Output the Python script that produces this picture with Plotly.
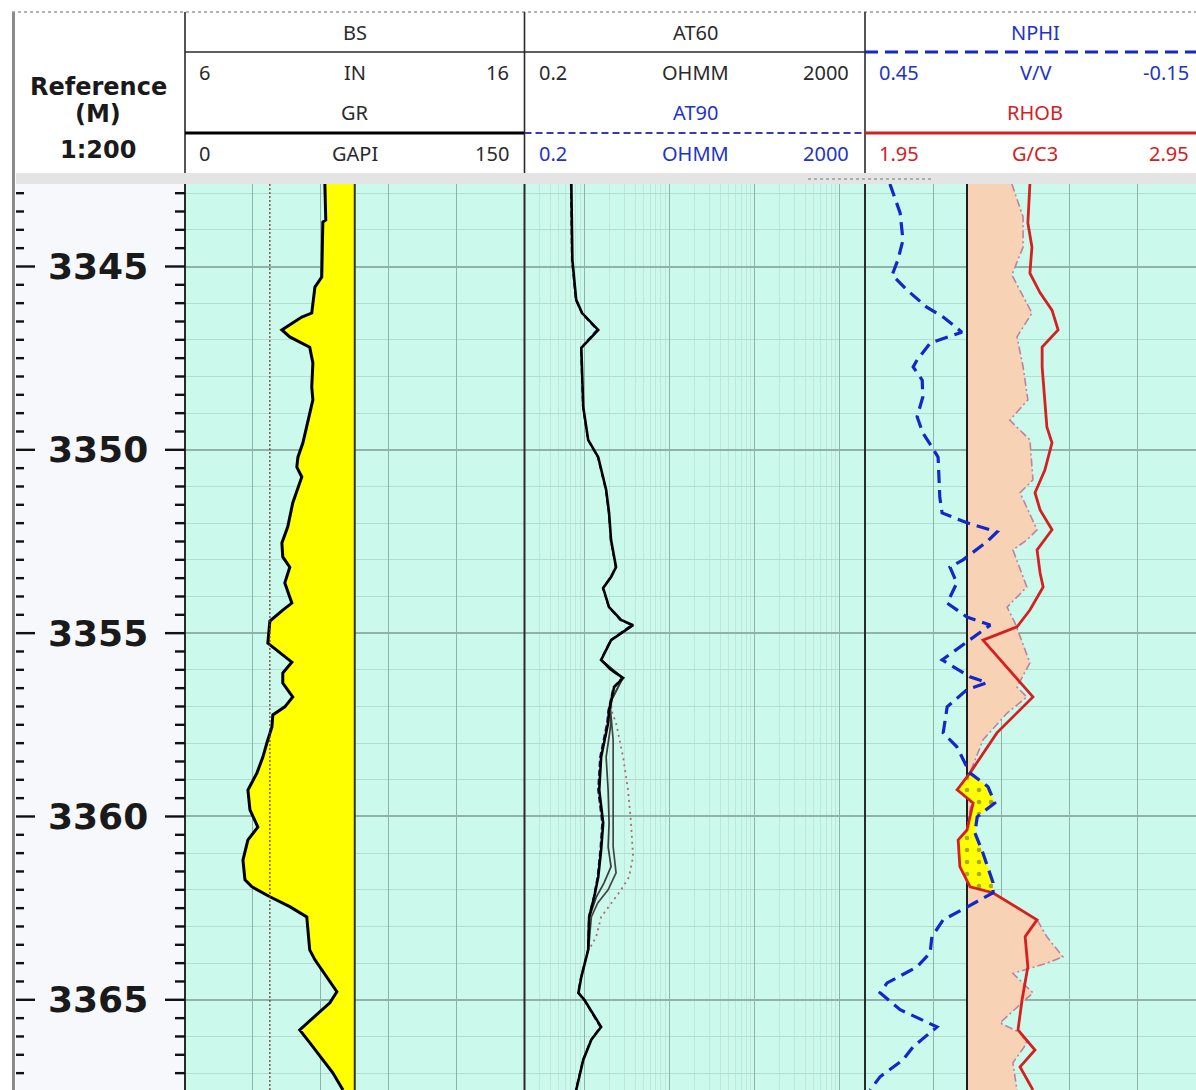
import numpy as np
import plotly.graph_objects as go

W, H = 1196, 1090

# ---------------- depth window (m) ----------------
TOP_DEPTH = 3342.75
BASE_DEPTH = 3367.46
DEPTH_LABELS = [3345, 3350, 3355, 3360, 3365]

# ---------------- track 1: gamma ray / bit size ----------------
GR_DEPTH = [3342.75, 3343.73, 3343.79, 3345.29, 3345.56, 3346.27, 3346.38, 3346.73,
            3346.92, 3347.20, 3347.63, 3348.29, 3348.64, 3349.19, 3349.81, 3350.20,
            3350.47, 3350.74, 3351.45, 3352.10, 3352.54, 3352.92, 3353.20, 3353.63,
            3354.18, 3354.37, 3354.67, 3355.27, 3355.46, 3355.79, 3356.09, 3356.36,
            3356.74, 3357.01, 3357.23, 3357.56, 3357.99, 3358.38, 3358.81, 3359.28,
            3359.82, 3360.29, 3360.64, 3361.19, 3361.73, 3361.92, 3362.19, 3362.46,
            3362.74, 3363.64, 3363.91, 3364.18, 3364.78, 3365.08, 3365.82, 3366.17,
            3366.64, 3366.99, 3367.46]
GR = [61.8, 62.2, 60.9, 60.4, 57.4, 56.0, 51.6, 42.8, 46.3, 55.1,
      56.5, 56.0, 56.5, 54.3, 52.1, 49.9, 49.4, 51.6, 47.6, 45.4,
      42.8, 43.2, 46.3, 44.1, 47.2, 43.2, 37.5, 36.6, 40.6, 47.2,
      43.2, 43.2, 47.6, 44.1, 38.8, 38.4, 36.2, 34.4, 31.8, 27.8,
      28.7, 32.2, 27.8, 25.6, 26.5, 29.6, 37.5, 46.3, 53.8, 55.1,
      57.4, 60.4, 67.1, 64.0, 50.7, 55.1, 60.9, 65.3, 69.8]
BS_DEPTH = [TOP_DEPTH, BASE_DEPTH]
BS = [8.5, 8.5]
GR_CUTOFF = 75.0

# ---------------- track 2: array induction resistivity (ohm.m) ----------------
AT60_DEPTH = [3342.75, 3344.82, 3345.91, 3346.27, 3346.73, 3347.22, 3348.83, 3349.73,
              3350.20, 3351.09, 3351.72, 3352.46, 3353.20, 3353.47, 3353.77, 3354.29,
              3354.64, 3354.78, 3355.19, 3355.73, 3356.00, 3356.22, 3356.47, 3356.82,
              3357.10, 3357.45, 3358.38, 3359.28, 3360.18, 3360.91, 3361.65, 3362.19,
              3362.74, 3363.64, 3364.38, 3364.81, 3365.00, 3365.74, 3366.09, 3366.64,
              3367.46]
AT60 = [0.71, 0.73, 0.81, 0.95, 1.47, 0.93, 0.98, 1.12, 1.47, 1.82,
        1.97, 2.08, 2.38, 2.08, 1.68, 1.97, 2.73, 3.77, 2.08, 1.59,
        2.08, 2.88, 2.26, 2.08, 1.97, 1.92, 1.59, 1.51, 1.68, 1.59,
        1.47, 1.32, 1.15, 1.12, 0.93, 0.86, 1.01, 1.59, 1.22, 0.98,
        0.81]
AT90 = [0.70, 0.72, 0.80, 0.94, 1.42, 0.92, 0.97, 1.11, 1.45, 1.80,
        1.95, 2.06, 2.35, 2.05, 1.66, 1.95, 2.65, 3.60, 2.05, 1.57,
        2.05, 2.80, 2.22, 2.04, 1.93, 1.86, 1.54, 1.46, 1.63, 1.55,
        1.44, 1.30, 1.14, 1.11, 0.92, 0.85, 1.00, 1.55, 1.21, 0.97,
        0.80]
AT30_DEPTH = [3355.73, 3356.22, 3356.82, 3357.10, 3357.45, 3358.38, 3359.28, 3360.18,
              3360.83, 3361.37, 3361.81, 3362.19, 3362.74, 3363.64]
AT30 = [1.59, 2.85, 2.10, 2.00, 2.08, 1.82, 1.92, 1.97, 1.92, 2.08, 1.72, 1.40, 1.16, 1.12]
AT20_DEPTH = [3355.73, 3356.22, 3356.82, 3357.10, 3357.91, 3359.28, 3360.18, 3360.83,
              3361.54, 3362.00, 3362.36, 3362.74, 3363.64]
AT20 = [1.60, 2.86, 2.12, 2.05, 2.20, 2.20, 2.20, 2.20, 2.38, 1.92, 1.45, 1.22, 1.13]
AT10_DEPTH = [3356.82, 3357.10, 3357.45, 3358.38, 3359.28, 3360.18, 3361.10, 3361.65,
              3362.00, 3362.36, 3362.74, 3363.28, 3363.64]
AT10 = [2.10, 2.10, 2.38, 2.88, 3.29, 3.57, 3.77, 3.38, 2.73, 2.08, 1.59, 1.39, 1.14]

# ---------------- track 3: neutron / density ----------------
NPHI_DEPTH = [3342.75, 3343.54, 3344.28, 3344.82, 3345.23, 3345.64, 3346.11, 3346.38,
              3346.79, 3346.92, 3347.09, 3347.55, 3347.74, 3348.10, 3348.56, 3349.10,
              3349.54, 3349.92, 3350.20, 3351.29, 3351.72, 3351.99, 3352.24, 3352.51,
              3353.00, 3353.20, 3353.63, 3354.18, 3354.56, 3354.78, 3355.19, 3355.73,
              3356.19, 3356.35, 3356.54, 3357.01, 3357.72, 3358.10, 3358.81, 3359.19,
              3359.63, 3360.01, 3360.45, 3360.99, 3361.81, 3362.08, 3362.47, 3362.82,
              3363.28, 3363.72, 3364.10, 3364.54, 3364.81, 3365.27, 3365.74, 3366.28,
              3366.64, 3367.10, 3367.46]
NPHI = [0.406, 0.388, 0.383, 0.392, 0.402, 0.376, 0.341, 0.312, 0.279, 0.305,
        0.335, 0.358, 0.365, 0.349, 0.348, 0.358, 0.348, 0.332, 0.321, 0.318,
        0.314, 0.270, 0.217, 0.235, 0.277, 0.300, 0.288, 0.305, 0.270, 0.229,
        0.265, 0.314, 0.265, 0.235, 0.270, 0.305, 0.312, 0.288, 0.265, 0.233,
        0.221, 0.252, 0.256, 0.242, 0.224, 0.224, 0.270, 0.312, 0.332, 0.335,
        0.358, 0.411, 0.4235, 0.388, 0.323, 0.365, 0.383, 0.4235, 0.441]
RHOB_DEPTH = [3342.75, 3343.81, 3344.47, 3345.18, 3345.72, 3346.19, 3346.73, 3347.20,
              3347.74, 3349.38, 3349.81, 3350.55, 3351.17, 3351.64, 3352.18, 3352.73,
              3353.36, 3353.74, 3354.37, 3354.83, 3355.19, 3356.74, 3357.72, 3358.81,
              3359.27, 3359.63, 3360.37, 3360.64, 3361.37, 3361.92, 3362.08, 3362.82,
              3363.28, 3364.10, 3365.00, 3365.82, 3366.37, 3366.83, 3367.46]
RHOB = [2.435, 2.429, 2.441, 2.435, 2.465, 2.500, 2.518, 2.471, 2.471, 2.485,
        2.500, 2.479, 2.450, 2.465, 2.500, 2.456, 2.465, 2.474, 2.435, 2.397,
        2.297, 2.444, 2.338, 2.259, 2.221, 2.268, 2.250, 2.224, 2.229, 2.259,
        2.326, 2.456, 2.421, 2.429, 2.412, 2.400, 2.450, 2.406, 2.444]
RHOZ_DEPTH = [3342.75, 3343.65, 3344.47, 3345.23, 3346.27, 3346.92, 3347.74, 3348.64,
              3349.19, 3349.73, 3350.82, 3351.17, 3352.18, 3352.46, 3352.73, 3353.74,
              3354.29, 3354.72, 3355.81, 3356.47, 3356.74, 3357.18, 3357.91, 3358.81,
              3359.27, 3359.63, 3360.37, 3360.64, 3361.37, 3361.92, 3362.08, 3362.82,
              3363.28, 3363.83, 3364.00, 3364.28, 3364.81, 3365.63, 3365.90, 3366.18,
              3366.72, 3367.46]
RHOZ = [2.382, 2.415, 2.415, 2.382, 2.441, 2.397, 2.415, 2.429, 2.376, 2.435,
        2.444, 2.406, 2.456, 2.426, 2.385, 2.426, 2.368, 2.391, 2.435, 2.397,
        2.426, 2.368, 2.297, 2.259, 2.235, 2.262, 2.250, 2.232, 2.236, 2.262,
        2.326, 2.456, 2.485, 2.532, 2.485, 2.385, 2.444, 2.347, 2.406, 2.426,
        2.385, 2.397]
DENSITY_BASELINE = 2.25
CROSSOVER_TOP, CROSSOVER_BASE = 3358.81, 3362.08

# scales of the tracks
NPHI_LEFT, NPHI_RIGHT = 0.45, -0.15
RHOB_LEFT, RHOB_RIGHT = 1.95, 2.95

# ---------------- colours ----------------
MINT = "#CBFAEC"
GRID_MAJOR = "#8FB2A9"
GRID_MINOR = "#B3DDD2"
LOG_MINOR = "#C0E5DA"
DARK = "#2A2A2A"
BLUE = "#2233C8"
RED = "#D42020"
TEXT_FONT = "Noto Sans"

# ---------------- layout geometry (pixels) ----------------
X_DEPTH0, X_T1, X_T2, X_T3, X_T3_END = 16, 185, 524.5, 865, 1205
Y_TOP, Y_HEAD_END, Y_DATA = 12, 173, 184

def px(x):
    return x / W

def py(y):
    return 1 - y / H

shapes, annotations = [], []

def seg(x0, y0, x1, y1, color, width, dash=None, layer="above"):
    line = dict(color=color, width=width)
    if dash:
        line["dash"] = dash
    shapes.append(dict(type="line", xref="paper", yref="paper", x0=px(x0), y0=py(y0),
                       x1=px(x1), y1=py(y1), line=line, layer=layer))

def rect(x0, y0, x1, y1, color, layer="below"):
    shapes.append(dict(type="rect", xref="paper", yref="paper", x0=px(x0), y0=py(y0),
                       x1=px(x1), y1=py(y1), fillcolor=color, line=dict(width=0), layer=layer))

def label(s, x, y, color=DARK, size=20, anchor="center", weight="normal", family=TEXT_FONT):
    annotations.append(dict(text=s, xref="paper", yref="paper", x=px(x), y=py(y),
                            xanchor=anchor, yanchor="middle", showarrow=False,
                            font=dict(family=family, size=size, color=color, weight=weight)))

fig = go.Figure()

def line_trace(x, y, xaxis, color, width, dash="solid", fill=None, fillcolor=None):
    fig.add_trace(go.Scatter(x=x, y=y, xaxis=xaxis, yaxis="y", mode="lines",
                             line=dict(color=color, width=width, dash=dash),
                             fill=fill, fillcolor=fillcolor, hoverinfo="skip",
                             showlegend=False))

# ---- track 1: GR with sand shading up to the cutoff, BS dotted ----
line_trace([GR_CUTOFF, GR_CUTOFF], [TOP_DEPTH, BASE_DEPTH], "x", "#333333", 2)
line_trace(GR, GR_DEPTH, "x", "#000000", 3, fill="tonextx", fillcolor="#FFFF00")
line_trace(BS, BS_DEPTH, "x5", "#7A2A2A", 1.2, dash="2px,2px")

# ---- track 2: resistivity curves ----
line_trace(AT10, AT10_DEPTH, "x2", "#B06A6A", 1.8, dash="2px,4px")
line_trace(AT20, AT20_DEPTH, "x2", "#454545", 1.7)
line_trace(AT30, AT30_DEPTH, "x2", "#3A3A3A", 1.7)
line_trace(AT90, AT60_DEPTH, "x2", "#1A1A8A", 1.8, dash="6px,3px")
line_trace(AT60, AT60_DEPTH, "x2", "#000000", 2.6)

# ---- track 3: density baseline with peach shading, gas crossover, curves ----
line_trace([DENSITY_BASELINE, DENSITY_BASELINE], [TOP_DEPTH, BASE_DEPTH], "x3", "#1E1E1E", 2)
line_trace(RHOZ, RHOZ_DEPTH, "x3", "#C0809E", 1.6, dash="8px,3px,2px,3px",
           fill="tonextx", fillcolor="#F8D2B4")

rd, rv = np.array(RHOB_DEPTH), np.array(RHOB)
nd, nv = np.array(NPHI_DEPTH), np.array(NPHI)
# neutron porosity expressed on the density scale of the track
nphi_on_rhob = RHOB_LEFT + (NPHI_LEFT - nv) / (NPHI_LEFT - NPHI_RIGHT) * (RHOB_RIGHT - RHOB_LEFT)
m_r = (rd >= CROSSOVER_TOP - 1e-6) & (rd <= CROSSOVER_BASE + 1e-6)
m_n = (nd >= CROSSOVER_TOP - 1e-6) & (nd <= CROSSOVER_BASE + 1e-6)
poly_x = list(rv[m_r]) + list(nphi_on_rhob[m_n][::-1])
poly_y = list(rd[m_r]) + list(nd[m_n][::-1])
fig.add_trace(go.Scatter(x=poly_x, y=poly_y, xaxis="x3", yaxis="y", mode="lines",
                         line=dict(width=0), fill="toself", fillcolor="#FFFF00",
                         fillpattern=dict(shape=".", fgcolor="#555533", bgcolor="#FFFF00",
                                          size=12, solidity=0.12),
                         hoverinfo="skip", showlegend=False))
line_trace(RHOB, RHOB_DEPTH, "x3", RED, 2.8)
line_trace(NPHI, NPHI_DEPTH, "x4", "#1428C8", 3.2, dash="13px,7px")

# ---------------- axes ----------------
y_dom_top = py(Y_DATA)
t3_frac = (W - X_T3) / (X_T3_END - X_T3)
fig.update_layout(
    width=W, height=H, margin=dict(l=0, r=0, t=0, b=0), autosize=False,
    paper_bgcolor="white", plot_bgcolor=MINT,
    yaxis=dict(domain=[0, y_dom_top], range=[BASE_DEPTH, TOP_DEPTH], anchor="x",
               showticklabels=False, ticks="", zeroline=False, showline=False,
               tick0=3345, dtick=5, showgrid=True, gridcolor=GRID_MAJOR, gridwidth=1.6,
               minor=dict(tick0=3345, dtick=1, showgrid=True, gridcolor=GRID_MINOR, gridwidth=1)),
    xaxis=dict(domain=[px(X_T1), px(X_T2)], range=[0, 150], anchor="y",
               tickvals=[30, 60, 90, 120], showticklabels=False, ticks="",
               showgrid=True, gridcolor=GRID_MAJOR, gridwidth=1.4, zeroline=False),
    xaxis5=dict(overlaying="x", range=[6, 16], anchor="y", visible=False, showgrid=False),
    xaxis2=dict(domain=[px(X_T2), px(X_T3)], type="log",
                range=[np.log10(0.2), np.log10(2000)], anchor="y",
                tickvals=[1, 10, 100, 1000], showticklabels=False, ticks="",
                showgrid=True, gridcolor=GRID_MAJOR, gridwidth=1.4, zeroline=False,
                minor=dict(tickvals=[m * 10.0 ** e for e in range(-1, 4) for m in range(2, 10)
                                     if 0.2 < m * 10.0 ** e < 2000],
                           showgrid=True, gridcolor=LOG_MINOR, gridwidth=0.8, ticks="")),
    xaxis3=dict(domain=[px(X_T3), 1],
                range=[RHOB_LEFT, RHOB_LEFT + t3_frac * (RHOB_RIGHT - RHOB_LEFT)], anchor="y",
                tickvals=[2.15, 2.35, 2.55, 2.75], showticklabels=False, ticks="",
                showgrid=True, gridcolor=GRID_MAJOR, gridwidth=1.4, zeroline=False),
    xaxis4=dict(overlaying="x3",
                range=[NPHI_LEFT, NPHI_LEFT - t3_frac * (NPHI_LEFT - NPHI_RIGHT)],
                anchor="y", visible=False, showgrid=False),
)

# ---------------- frame, header and depth track ----------------
rect(X_DEPTH0, Y_DATA, X_T1, H, "#F6F8FC")
rect(X_DEPTH0, Y_HEAD_END, W, Y_DATA, "#E4E4E4", layer="above")
# outer border
seg(13.5, Y_TOP, 13.5, H, "#8A8A8A", 3)
seg(12, Y_TOP, W, Y_TOP, "#9A9A9A", 1.5, dash="dot")
seg(808, 179, 932, 179, "#9A9A9A", 1.5, dash="dot")

# track separators (header and data)
for xs in (X_T1, X_T2, X_T3):
    seg(xs, Y_TOP, xs, Y_HEAD_END, DARK, 1.6)
    seg(xs, Y_DATA, xs, H, DARK, 2)

# header curve rows
ROW_Y = [32, 73, 113, 154]
LINE_Y = [52, 133]
seg(X_T1, LINE_Y[0], X_T2, LINE_Y[0], DARK, 1.6)
seg(X_T1, LINE_Y[1], X_T2, LINE_Y[1], "#000000", 3)
seg(X_T2, LINE_Y[0], X_T3, LINE_Y[0], DARK, 1.6)
seg(X_T2, LINE_Y[1], X_T3, LINE_Y[1], "#3A3AB0", 1.8, dash="7px,4px")
seg(X_T3, LINE_Y[0], W, LINE_Y[0], "#1428C8", 3.2, dash="13px,7px")
seg(X_T3, LINE_Y[1], W, LINE_Y[1], RED, 3)

def header(x0, x1, name1, lo1, unit1, hi1, c1, name2, lo2, unit2, hi2, c2):
    xc = (x0 + x1) / 2
    label(name1, xc, ROW_Y[0], c1)
    label(lo1, x0 + 12, ROW_Y[1], c1, anchor="left")
    label(unit1, xc, ROW_Y[1], c1)
    label(hi1, x1 - 14, ROW_Y[1], c1, anchor="right")
    label(name2, xc, ROW_Y[2], c2)
    label(lo2, x0 + 12, ROW_Y[3], c2, anchor="left")
    label(unit2, xc, ROW_Y[3], c2)
    label(hi2, x1 - 14, ROW_Y[3], c2, anchor="right")

header(X_T1, 525, "BS", "6", "IN", "16", DARK, "GR", "0", "GAPI", "150", DARK)
header(525, X_T3, "AT60", "0.2", "OHMM", "2000", DARK, "AT90", "0.2", "OHMM", "2000", BLUE)
header(X_T3, X_T3_END, "NPHI", "0.45", "V/V", "-0.15", BLUE, "RHOB", "1.95", "G/C3", "2.95", RED)

# depth track title
for s, yy in (("Reference", 87), ("(M)", 114), ("1:200", 150)):
    label(s, 98, yy, "#1A1A1A", size=24, weight="bold", family="DejaVu Sans")

# depth ticks and labels
for d in np.arange(3343.0, BASE_DEPTH, 0.5):
    major = abs(d / 5 - round(d / 5)) < 1e-9
    l_len, r_len = (19, 20) if major else (8, 10)
    for xa, xb in ((X_DEPTH0, X_DEPTH0 + l_len), (X_T1 - r_len, X_T1)):
        shapes.append(dict(type="line", xref="paper", yref="y", x0=px(xa), x1=px(xb),
                           y0=d, y1=d, line=dict(color="#111111", width=2.4), layer="above"))
for d in DEPTH_LABELS:
    annotations.append(dict(text=str(d), xref="paper", yref="y", x=px(98), y=d,
                            xanchor="center", yanchor="middle", showarrow=False,
                            font=dict(family="DejaVu Sans", size=36, color="#1A1A1A",
                                      weight="bold")))

fig.update_layout(shapes=shapes, annotations=annotations)
fig.write_html("out.html")
